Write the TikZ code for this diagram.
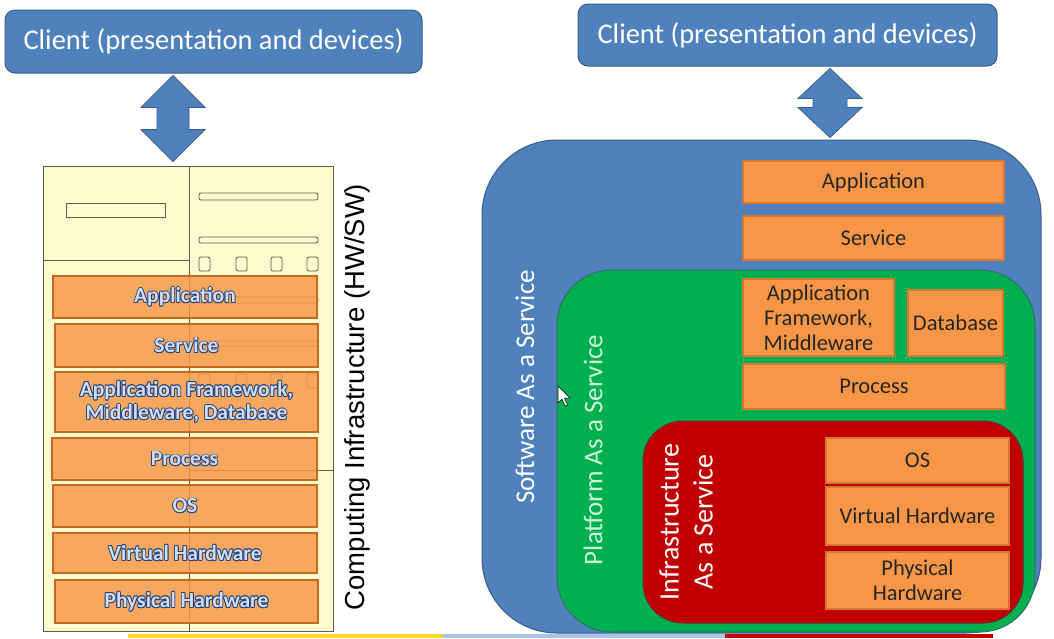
\documentclass[tikz,border=0pt]{standalone}
\usepackage{fontspec}
\setmainfont{Carlito}
\newfontfamily\arialfont{Liberation Sans}
\usetikzlibrary{calc}

\definecolor{clientblue}{RGB}{79,129,189}
\definecolor{clientedge}{RGB}{56,93,138}
\definecolor{paasgreen}{RGB}{0,176,80}
\definecolor{paasedge}{RGB}{50,110,100}
\definecolor{iaasred}{RGB}{192,0,0}
\definecolor{iaasedge}{RGB}{110,40,60}
\definecolor{layerorange}{RGB}{247,150,70}
\definecolor{layeredge}{RGB}{214,120,50}
\definecolor{rackedge}{RGB}{196,105,30}
\definecolor{layertext}{RGB}{38,38,38}
\definecolor{rackyellow}{RGB}{255,251,206}
\definecolor{rackline}{RGB}{90,90,80}
\definecolor{watext}{RGB}{208,222,245}
\definecolor{waline}{RGB}{35,65,125}
\definecolor{paastext}{RGB}{205,245,215}
\definecolor{stripyellow}{RGB}{252,215,40}
\definecolor{stripblue}{RGB}{170,195,230}
\definecolor{stripred}{RGB}{200,0,0}

\newcommand\clientsize{\fontsize{28.5}{32}\selectfont}
\newcommand\layersize{\fontsize{22.5}{25}\selectfont}
\newcommand\racksize{\fontsize{21.5}{23.5}\selectfont\bfseries}
\newcommand\servicesize{\fontsize{27}{31}\selectfont}
% outlined letters of the old slide
\newcommand\wa[1]{{\setbox0\hbox{#1}%
  \color{waline}%
  \rlap{\kern.9pt\copy0}\rlap{\kern-.9pt\copy0}%
  \rlap{\raise.9pt\copy0}\rlap{\lower.9pt\copy0}%
  \rlap{\kern.65pt\raise.65pt\copy0}\rlap{\kern-.65pt\lower.65pt\copy0}%
  \rlap{\kern.65pt\lower.65pt\copy0}\rlap{\kern-.65pt\raise.65pt\copy0}%
  \color{watext}\box0}}

\tikzset{
  client/.style={draw=clientedge, fill=clientblue, line width=1pt, rounded corners=10pt, text=white, font=\clientsize, inner sep=0pt},
  blockarrow/.style={draw=clientedge, fill=clientblue, line width=0.8pt},
  rack/.style={draw=rackline, fill=rackyellow, line width=0.8pt, inner sep=0pt},
  rackpart/.style={draw=rackline, line width=0.8pt},
  layer/.style={draw=layeredge, fill=layerorange, line width=1.2pt, inner sep=0pt, text=layertext, font=\layersize, align=center},
  racklayer/.style={layer, draw=rackedge, fill opacity=0.82, text opacity=1, font=\racksize},
  cloud/.style={line width=1pt, inner sep=0pt},
  cloudlabel/.style={rotate=90, font=\servicesize, align=center, inner sep=0pt},
}

\begin{document}
\begin{tikzpicture}[x=1pt,y=-1pt]
\useasboundingbox (0,0) rectangle (1054,638);

% Left: one computer holding every layer
\node[client, minimum width=417pt, minimum height=63pt] (clientL) at (213.5,41.5) {Client (presentation and devices)};
\node[rack, minimum width=290pt, minimum height=465pt] (rack) at (188,398.5) {};
\coordinate (armL) at (173,0);
\filldraw[blockarrow] ($(armL |- clientL.south)+(0,2)$) -- ++(32,32) -- ++(-16,0)
  -- ($(armL |- rack.north)+(16,-36)$) -- ++(16,0) -- ($(armL |- rack.north)+(0,-4)$)
  -- ++(-32,-32) -- ++(16,0) -- ($(armL |- clientL.south)+(-16,34)$) -- ++(-16,0) -- cycle;

% server front
\draw[rackpart] (189,166) -- (189,631);
\draw[rackpart] (43,260) -- (189,260);
\draw[rackpart] (189,470) -- (333,470);
\draw[rackpart] (66,203) rectangle (165,217);
\draw[rackpart, rounded corners=2pt] (199,193) rectangle (318,200);
\draw[rackpart, rounded corners=2pt] (199,237) rectangle (318,243);
\draw[rackpart, rounded corners=2pt] (199,297) rectangle (318,303);
\draw[rackpart, rounded corners=2pt] (199,341) rectangle (318,346);
\draw[rackpart, rounded corners=2pt] (199,257) rectangle (210,271);
\draw[rackpart, rounded corners=2pt] (236,257) rectangle (247,271);
\draw[rackpart, rounded corners=2pt] (271,257) rectangle (282,271);
\draw[rackpart, rounded corners=2pt] (307,257) rectangle (318,271);
\draw[rackpart, rounded corners=2pt] (199,374) rectangle (210,388);
\draw[rackpart, rounded corners=2pt] (236,374) rectangle (247,388);
\draw[rackpart, rounded corners=2pt] (271,374) rectangle (282,388);
\draw[rackpart, rounded corners=2pt] (307,374) rectangle (318,388);

\node[racklayer, minimum width=264pt, minimum height=42pt] (appL) at (185,297) {\wa{Application}};
\node[racklayer, minimum width=263pt, minimum height=43pt] (serviceL) at (186.5,345.5) {\wa{Service}};
\node[racklayer, minimum width=263pt, minimum height=60pt] (frameworkL) at (186.5,402) {\wa{Application Framework,}\\\wa{Middleware, Database}};
\node[racklayer, minimum width=265pt, minimum height=42pt] (processL) at (184.5,459) {\wa{Process}};
\node[racklayer, minimum width=264pt, minimum height=42pt] (osL) at (185,506) {\wa{OS}};
\node[racklayer, minimum width=264pt, minimum height=40pt] (virtualL) at (185,553) {\wa{Virtual Hardware}};
\node[racklayer, minimum width=263pt, minimum height=43pt] (physicalL) at (186.5,601.5) {\wa{Physical Hardware}};

\node[rotate=90, font=\arialfont\fontsize{27.5}{30}\selectfont, inner sep=0pt] (infraText) at (357,397) {Computing Infrastructure (HW/SW)};

% Right: the three service models
\node[client, minimum width=419pt, minimum height=62pt] (clientR) at (787.5,35) {Client (presentation and devices)};
\node[cloud, draw=clientedge, fill=clientblue, rounded corners=75pt, minimum width=559pt, minimum height=493pt] (saas) at (761.5,386.5) {};
\coordinate (armR) at (830,0);
\filldraw[blockarrow] ($(armR |- clientR.south)+(0,2)$) -- ++(32,30) -- ++(-15,0)
  -- ($(armR |- saas.north)+(17,-32)$) -- ++(15,0) -- ($(armR |- saas.north)+(0,-2)$)
  -- ++(-32,-30) -- ++(15,0) -- ($(armR |- clientR.south)+(-17,32)$) -- ++(-15,0) -- cycle;

\node[layer, minimum width=261pt, minimum height=42pt] (appR) at (873.5,182) {Application};
\node[layer, minimum width=261pt, minimum height=44pt] (serviceR) at (873.5,238) {Service};

\node[cloud, draw=paasedge, fill=paasgreen, rounded corners=55pt, minimum width=478pt, minimum height=362pt] (paas) at (796,451) {};
\node[layer, minimum width=151pt, minimum height=77pt] (frameworkR) at (818.5,317.5) {Application\\Framework,\\Middleware};
\node[layer, minimum width=95pt, minimum height=66pt] (databaseR) at (955.5,323) {Database};
\node[layer, minimum width=262pt, minimum height=45pt] (processR) at (874,386.5) {Process};

\node[cloud, draw=iaasedge, fill=iaasred, rounded corners=40pt, minimum width=380pt, minimum height=202pt] (iaas) at (833,522) {};
\node[layer, minimum width=183pt, minimum height=45pt] (osR) at (917.5,460.5) {OS};
\node[layer, minimum width=183pt, minimum height=58pt] (virtualR) at (917.5,516) {Virtual Hardware};
\node[layer, minimum width=183pt, minimum height=57pt] (physicalR) at (917.5,580.5) {Physical\\Hardware};

\node[cloudlabel, text=white] (saasText) at (525,387) {Software As a Service};
\node[cloudlabel, text=paastext] (paasText) at (593,450) {Platform As a Service};
\node[cloudlabel, text=white, font=\fontsize{28}{34}\selectfont] (iaasText) at (686,522) {Infrastructure\\As a Service};

% mouse pointer
\filldraw[fill=white, draw=black, line width=0.5pt] (558,386) -- ++(0,17) -- ++(4,-4) -- ++(3,7) -- ++(2.5,-1) -- ++(-3,-7) -- ++(5.5,0) -- cycle;

% slide footer
\fill[stripyellow] (128,634) rectangle (443,638);
\fill[stripblue] (443,634) rectangle (725,638);
\fill[stripred] (725,634) rectangle (993,638);
\end{tikzpicture}
\end{document}
